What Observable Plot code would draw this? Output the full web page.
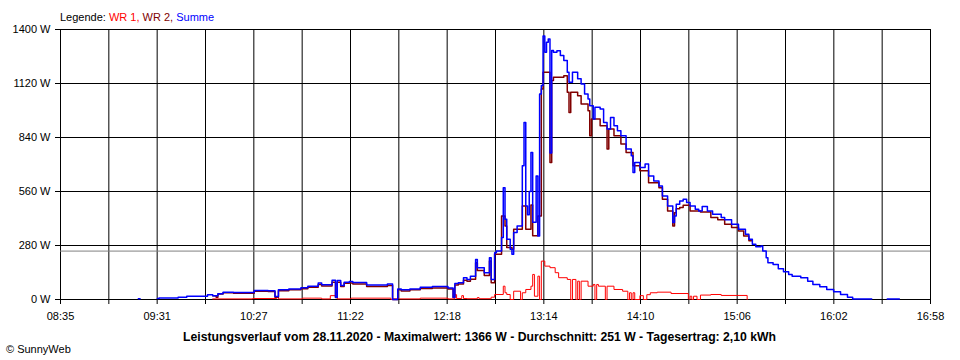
<!DOCTYPE html>
<html>
<head>
<meta charset="utf-8">
<script src="https://cdn.jsdelivr.net/npm/d3@7"></script>
<script src="https://cdn.jsdelivr.net/npm/@observablehq/plot@0.6"></script>
<style>
  html, body { margin: 0; padding: 0; background: #fff; }
  body { font-family: "Liberation Sans", Arial, sans-serif; color: #000; }
  #wrap { position: relative; width: 960px; height: 360px; overflow: hidden; }
  #chart { position: absolute; left: 0; top: 0; }
  .txt { position: absolute; white-space: nowrap; line-height: 11px; font-size: 11px; }
  #legend { left: 60px; top: 12px; }
  #caption { left: 183px; top: 331px; font-size: 12px; font-weight: bold; line-height: 12px; transform-origin: 0 0; }
  #copy { left: 6px; top: 344px; }
</style>
</head>
<body>
<div id="wrap">
  <div id="chart"></div>
  <div id="legend" class="txt"></div>
  <div id="caption" class="txt"></div>
  <div id="copy" class="txt"></div>
</div>
<script>
// ---------- texts ----------
const legendTitle = "Legende: ";
const seriesNames = ["WR 1", "WR 2", "Summe"];
const seriesColors = ["#FF0000", "#800000", "#0000FF"];
const captionText = "Leistungsverlauf vom 28.11.2020 - Maximalwert: 1366 W - Durchschnitt: 251 W - Tagesertrag: 2,10 kWh";
const copyText = "© SunnyWeb";

// ---------- axes ----------
const xStart = "08:35";
const xEnd = "16:58";
const xTickLabels = ["08:35", "09:31", "10:27", "11:22", "12:18", "13:14", "14:10", "15:06", "16:02", "16:58"];
const yTicks = [0, 280, 560, 840, 1120, 1400];
const averageW = 251;

// ---------- data: Summe ----------
const sumTime = ["09:20","09:21","09:23","09:31","09:32","09:43","09:48","10:00","10:03","10:06","10:09","10:15","10:27","10:35","10:39","10:41","10:47","10:54","10:58","11:04","11:06","11:12","11:14","11:15","11:17","11:19","11:22","11:24","11:32","11:44","11:47","11:50","11:52","11:57","12:03","12:10","12:19","12:22","12:23","12:25","12:28","12:30","12:32","12:35","12:36","12:40","12:43","12:44","12:46","12:47","12:50","12:51","12:52","12:53","12:55","12:56","12:57","12:59","13:02","13:03","13:04","13:05","13:06","13:07","13:08","13:10","13:11","13:12","13:13","13:14","13:15","13:16","13:17","13:18","13:19","13:20","13:22","13:24","13:26","13:28","13:29","13:31","13:34","13:36","13:38","13:40","13:41","13:43","13:44","13:47","13:49","13:51","13:53","13:55","13:57","13:59","14:02","14:05","14:06","14:07","14:10","14:13","14:15","14:18","14:21","14:23","14:26","14:29","14:30","14:31","14:33","14:35","14:37","14:39","14:42","14:44","14:46","14:49","14:52","14:57","14:59","15:03","15:07","15:11","15:13","15:15","15:17","15:20","15:21","15:23","15:24","15:27","15:30","15:33","15:36","15:38","15:43","15:47","15:50","15:54","15:58","16:02","16:06","16:10","16:13","16:24","16:25","16:33","16:40"];
const sumW = [4,4,null,5,8,12,17,24,20,30,38,36,47,45,15,50,55,61,69,86,76,100,12,98,72,90,93,88,75,80,0,55,50,55,64,68,60,12,83,87,113,104,120,208,165,139,217,104,243,251,321,580,416,312,260,234,347,381,693,918,485,440,560,762,400,641,329,1066,1109,1366,1282,1334,1351,760,1291,1282,1290,1265,1239,1178,1126,1178,1144,1118,1066,1040,1005,936,997,988,918,884,944,901,875,849,780,745,658,710,685,702,641,615,589,537,485,399,433,494,511,520,503,485,468,459,482,459,442,425,413,390,364,338,312,286,274,277,251,217,191,182,160,144,130,121,113,95,78,66,52,40,26,12,3,3,null,3,3];

// ---------- data: WR 2 ----------
const wr2Time = ["10:03","10:05","10:06","10:09","10:15","10:27","10:35","10:39","10:41","10:47","10:54","10:58","11:04","11:06","11:12","11:14","11:15","11:17","11:19","11:22","11:24","11:32","11:44","11:47","11:50","11:52","11:57","12:03","12:10","12:19","12:22","12:23","12:25","12:28","12:30","12:32","12:35","12:36","12:40","12:43","12:44","12:46","12:50","12:52","12:53","12:56","12:57","13:02","13:04","13:07","13:08","13:11","13:13","13:14","13:18","13:19","13:20","13:26","13:28","13:29","13:30","13:34","13:36","13:40","13:41","13:42","13:47","13:51","13:52","13:55","13:59","14:02","14:06","14:10","14:15","14:21","14:23","14:26","14:29","14:30","14:31","14:33","14:35","14:39","14:45","14:51","14:55","14:59","15:03","15:07","15:10","15:13","15:15"];
const wr2W = [20,12,28,35,33,43,42,12,46,50,56,63,78,70,90,10,90,68,84,86,80,68,72,0,50,44,50,57,60,55,10,75,80,100,95,105,190,150,125,200,87,234,433,381,269,260,364,485,364,490,330,433,1092,1178,710,1135,1152,1160,1074,970,1074,1057,1014,979,849,936,901,780,884,849,806,762,693,667,606,580,520,459,381,450,470,477,489,459,454,425,413,390,373,355,329,305,305];

// ---------- data: WR 1 ----------
const wr1Time = ["10:03","10:26","10:40","10:41","10:55","11:06","11:11","11:14","11:15","11:23","11:46","11:47","12:03","12:19","12:23","12:24","12:27","12:28","12:30","12:36","12:37","12:44","12:46","12:51","12:52","12:53","12:55","12:57","13:01","13:02","13:04","13:07","13:08","13:09","13:11","13:12","13:13","13:15","13:18","13:21","13:23","13:28","13:30","13:31","13:33","13:34","13:35","13:36","13:40","13:43","13:44","13:45","13:46","13:50","13:51","13:55","14:00","14:03","14:04","14:05","14:06","14:07","14:10","14:12","14:14","14:16","14:20","14:28","14:38","14:39","14:40","14:41","14:43","14:45","14:51","14:57","15:12"];
const wr1W = [3,5,12,3,7,3,20,38,3,7,0,3,7,3,25,5,20,5,4,10,4,12,26,69,35,26,0,43,0,35,52,69,130,17,121,0,199,173,165,139,113,104,0,104,0,95,0,95,69,78,0,78,69,0,69,52,43,0,35,0,35,0,20,0,25,35,38,31,0,17,0,17,0,23,26,21,0];

// ---------- build ----------
const toMin = s => { const [h, m] = s.split(":").map(Number); return h * 60 + m; };
const rows = (times, vals) => times.map((t, i) => ({t: toMin(t), v: vals[i]}));
const wr1Rows = rows(wr1Time, wr1W);
const wr2Rows = rows(wr2Time, wr2W);
const sumRows = rows(sumTime, sumW);

const x0 = toMin(xStart), x1 = toMin(xEnd);
const nMajor = xTickLabels.length - 1;
const step = (x1 - x0) / (nMajor * 2);
const gridX = d3.range(nMajor * 2 + 1).map(i => x0 + i * step);
const xLabel = d => {
  const i = Math.round((d - x0) / step);
  return i % 2 === 0 ? xTickLabels[i / 2] : "";
};

const chart = Plot.plot({
  width: 960,
  height: 360,
  marginLeft: 60,
  marginRight: 30,
  marginTop: 29,
  marginBottom: 61,
  style: {fontFamily: "'Liberation Sans', Arial, sans-serif", fontSize: "11px", color: "#000", background: "#fff", overflow: "visible"},
  x: {type: "linear", domain: [x0, x1]},
  y: {domain: [0, 1400]},
  marks: [
    Plot.ruleX(gridX, {stroke: "#000", strokeWidth: 1}),
    Plot.ruleY(yTicks, {stroke: "#000", strokeWidth: 1}),
    Plot.ruleY([averageW], {stroke: "#808080", strokeWidth: 1}),
    Plot.line(wr1Rows, {x: "t", y: "v", curve: "step-after", stroke: seriesColors[0], strokeWidth: 1}),
    Plot.line(wr2Rows, {x: "t", y: "v", curve: "step-after", stroke: seriesColors[1], strokeWidth: 1.5}),
    Plot.line(sumRows, {x: "t", y: "v", curve: "step-after", stroke: seriesColors[2], strokeWidth: 1.5}),
    Plot.axisY({ticks: yTicks, tickFormat: d => d + " W", tickSize: 5, tickPadding: 5, fontSize: 11, label: null}),
    Plot.axisX({ticks: gridX, tickFormat: xLabel, tickSize: 5, tickPadding: 8, fontSize: 11, label: null})
  ]
});
document.getElementById("chart").appendChild(chart);

// legend
const lg = document.getElementById("legend");
lg.appendChild(document.createTextNode(legendTitle));
seriesNames.forEach((n, i) => {
  const s = document.createElement("span");
  s.style.color = seriesColors[i];
  s.textContent = n + (i < seriesNames.length - 1 ? ", " : "");
  lg.appendChild(s);
});

// caption, fitted to original width
const cap = document.getElementById("caption");
cap.textContent = captionText;
const w = cap.getBoundingClientRect().width;
cap.style.transform = `scaleX(${593 / w})`;

document.getElementById("copy").textContent = copyText;
</script>
</body>
</html>
